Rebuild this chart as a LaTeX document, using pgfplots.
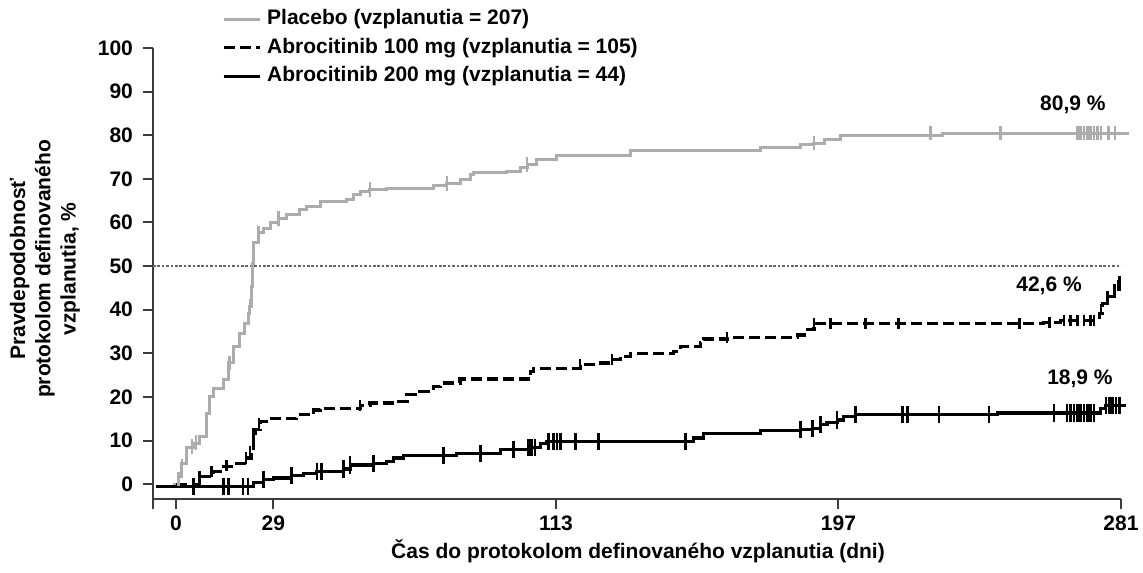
\documentclass[border=0pt]{standalone}
\usepackage{fontspec}
\setmainfont{Liberation Sans}
\usepackage{pgfplots}
\pgfplotsset{compat=1.18}
\definecolor{plgray}{RGB}{172,172,172}
\definecolor{axgray}{RGB}{60,60,60}
\newcommand{\chf}{\bfseries\fontsize{10.5}{12.6}\selectfont}
\begin{document}
\begin{tikzpicture}
\useasboundingbox (-76.5pt,-36.5pt) rectangle (495pt,249.5pt);
\begin{axis}[
  at={(0,0)}, anchor=south west,
  scale only axis, width=484pt, height=225.5pt,
  xmin=-6.8, xmax=281, ymin=-3.4, ymax=100,
  axis x line=bottom, axis y line=left,
  axis line style={-, line width=1.1pt, axgray},
  xtick={0,29,113,197,281}, ytick={0,10,...,100},
  extra x ticks={-6.8}, extra x tick labels={},
  tick align=outside, major tick length=5pt,
  tick style={line width=1pt, axgray},
  /pgf/number format/assume math mode=true,
  tick label style={font=\chf, text=black},
  yticklabel style={xshift=-1.5pt},
  clip=false,
  xlabel={Čas do protokolom definovaného vzplanutia (dni)},
  xlabel style={font=\chf, at={(axis description cs:0.501,-0.1153)}, anchor=center},
  ylabel={Pravdepodobnosť\\protokolom definovaného\\vzplanutia, \%},
  ylabel style={font=\chf, align=center, at={(axis description cs:-0.1116,0.51)}, anchor=center},
  legend style={draw=none, fill=none, at={(axis description cs:0.0713,1.0953)}, anchor=north west,
     inner sep=0pt, outer sep=0pt, row sep=0pt, font=\chf,
     nodes={inner ysep=1.875pt, inner xsep=3pt, text height=8pt, text depth=2.5pt}},
  legend cell align=left,
  legend image code/.code={\draw[#1] (0pt,0pt) -- (18pt,0pt);},
]
% reference line at 50 %
\addplot[forget plot, black!60, line width=0.8pt, dash pattern=on 1.3pt off 0.9pt] coordinates {(-6.8,50) (281,50)};

% Placebo
\addplot[const plot, plgray, line width=1.5pt] coordinates {
(-1,0) (0,0) (0.7,1.7) (1.7,4.8) (3.2,8.3) (5.2,9.4) (7.1,10.9) (9.1,16.3) (9.9,20.1) (11.1,22)
(14.1,23.9) (15.6,27.8) (17.1,31.6) (19,34.6) (20.5,36.9) (21.5,39.2) (22,40.7) (22.5,45.3)
(22.8,50.7) (23.2,55.3) (24.5,57.6) (26,58.7) (28,59.9) (30.5,61) (33,61.8) (36.9,62.9)
(38.9,63.7) (42.9,64.8) (50.8,65.2) (52.8,66.4) (54.8,67.1) (57.7,67.5) (62.7,67.9)
(76.6,68.4) (80.6,69) (84.5,69.8) (87.5,70.9) (88.5,71.5) (98.4,71.7) (102.4,72.5)
(104.4,73.2) (107.3,74.4) (113.3,75.3) (135.1,76.5) (173.8,77.2) (185.7,77.8) (189.7,78.2)
(192.7,79) (197.6,79.9) (227.9,80.5) (283.5,80.5)};
\addlegendentry{Placebo (vzplanutia = 207)}

% Abrocitinib 100 mg
\addplot[const plot, black, line width=1.6pt, dash pattern=on 5.5pt off 2.5pt] coordinates {
(0,0) (7.1,1.7) (11.1,2.9) (14.1,4) (18.1,4.8) (21,6) (22.5,7.9) (23,10.2) (23.5,12.5) (25,14.4)
(27,15.1) (35.9,15.9) (40.9,17) (42.9,17.4) (54.8,18) (57.7,18.6) (65.7,19) (68.7,20.5)
(72.6,21.2) (76.6,22.4) (78.6,23.2) (84.5,24.1) (105.4,25.8) (106.3,26.6) (120.2,27.4)
(125.2,27.8) (129.7,28.5) (132.1,29.3) (135.1,30) (148,30.4) (150,31.6) (155.9,32.5)
(156.9,33.3) (163.9,33.7) (184.7,34.2) (187.7,35.4) (189.7,36.8) (258,37.1) (263,37.5)
(274.5,39.2) (275.5,41.5) (277,43) (279,44.6) (280.4,46.5) (281.5,46.9)};
\addlegendentry{Abrocitinib 100 mg (vzplanutia = 105)}

% Abrocitinib 200 mg
\addplot[const plot, black, line width=1.6pt] coordinates {
(-6,-0.6) (23,0.4) (26,1) (29,1.4) (34.4,1.9) (37.9,2.5) (41.9,2.9) (49.8,3.5) (51.8,4.4)
(58.7,4.8) (62.7,5.2) (64.7,6) (67.7,6.5) (83.5,7.1) (96.4,7.9) (104.8,8.4) (108.3,9.4)
(110.3,9.8) (151.5,9.8) (154,10.6) (156.9,11.7) (173.8,12.3) (185.7,12.5) (189.2,12.8)
(191.7,13.6) (193.6,14.1) (196.6,14.7) (198.6,15.5) (202.1,15.9) (244.3,16.3) (275,17.4)
(276.5,18) (282.5,18)};
\addlegendentry{Abrocitinib 200 mg (vzplanutia = 44)}

% censor marks
\addplot[forget plot, only marks, mark=|, mark size=3.7pt, plgray, mark options={line width=1.3pt}] coordinates {
(0.7,1.2) (1.8,4) (3.2,7) (4.8,8.6) (6,9.6) (15.9,27.8) (22,40.7) (24.5,57.6) (30.5,61)
(57.7,67.5) (80.6,69) (104.4,73.2) (189.7,78.2) (224.4,80.5) (245.2,80.5) (268,80.5)
(269,80.5) (270,80.5) (271,80.5) (272,80.5) (273,80.5) (274,80.5) (275,80.5) (277.2,80.5) (279.2,80.5)};
\addplot[forget plot, only marks, mark=|, mark size=2.8pt, black, mark options={solid, line width=1.3pt}] coordinates {
(7.1,1.7) (10.6,2.9) (15,4.2) (20.9,6) (22,7.5) (23,11.5) (24.7,13.9) (54.8,18) (120.2,27.4)
(129.7,28.5) (163.9,33.7) (189.7,36.8) (194.6,36.8) (205,36.8) (214.9,36.8) (250.8,36.8)
(259.7,37.1) (264,37.5) (266,37.5) (268,37.5) (270,37.5) (272,37.5) (273,37.5)
(275,40) (277,43) (279,44.6) (280.5,46.5)};
\addplot[forget plot, only marks, mark=|, mark size=4.3pt, black, mark options={line width=1.3pt}] coordinates {
(5.2,-0.6) (14.1,-0.6) (15.6,-0.6) (20,-0.6) (21.5,-0.6) (26,1) (34.4,1.9) (41.9,2.9) (43.3,2.9)
(49.8,3.5) (51.8,4.4) (58.7,4.8) (79.6,6.5) (90.5,7.1) (100.4,7.9) (104.8,8.4) (105.8,8.4)
(106.8,8.4) (110.8,9.8) (112.3,9.8) (113.3,9.8) (114.3,9.8) (118.8,9.8) (125.7,9.8) (151.5,9.8)
(185.7,12.5) (189.2,12.8) (191.7,13.6) (196.6,14.7) (202.1,15.9) (216,15.9) (217.5,15.9)
(226.9,15.9) (241.8,15.9) (261.1,16.3) (265,16.3) (266,16.3) (267,16.3) (268,16.3) (269,16.3)
(270,16.3) (271,16.3) (272,16.3) (273,16.3) (276.5,18) (277.5,18) (278.5,18) (279.5,18) (280.5,18)};

% annotations
\node[font=\chf] at (axis cs:266.7,86.9) {80,9 \%};
\node[font=\chf] at (axis cs:259.6,45.5) {42,6 \%};
\node[font=\chf] at (axis cs:268.8,24.2) {18,9 \%};
\end{axis}
\end{tikzpicture}
\end{document}
